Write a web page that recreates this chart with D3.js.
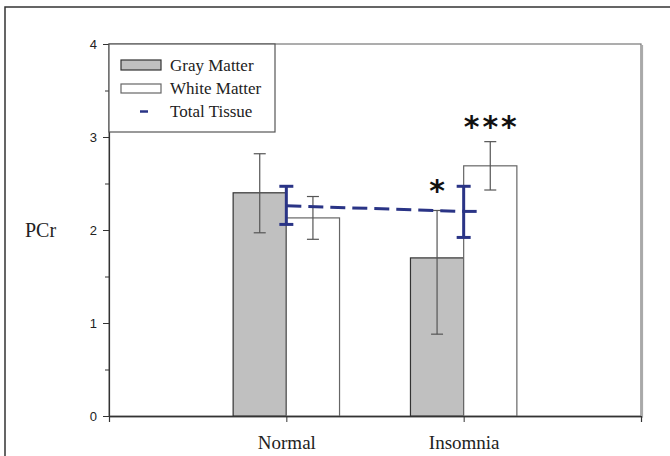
<!DOCTYPE html>
<html><head><meta charset="utf-8">
<script src="https://cdn.jsdelivr.net/npm/d3@7"></script>
<style>body{margin:0;background:#fff}</style>
</head><body>
<svg id="c" width="670" height="456"></svg>
<script>
const categories = ["Normal", "Insomnia"];
const grayMean = [2.40, 1.70];
const grayUpper = [2.82, 2.21];
const grayLower = [1.97, 0.88];
const whiteMean = [2.13, 2.69];
const whiteUpper = [2.36, 2.95];
const whiteLower = [1.90, 2.43];
const totalMean = [2.26, 2.20];
const totalUpper = [2.47, 2.47];
const totalLower = [2.06, 1.92];
const yTicks = [0, 1, 2, 3, 4];
const yMinorTicks = [0.5, 1.5, 2.5, 3.5];
const legendLabels = ["Gray Matter", "White Matter", "Total Tissue"];
const sigLabels = [{cat: 1, series: "gray", text: "*", gap: 20.5}, {cat: 1, series: "white", text: "***", gap: 16}];

const svg = d3.select("#c");
const L = 109, R = 641, T = 44, B = 416;
const x = d3.scaleLinear().domain([0, 3]).range([L, R]);
const y = d3.scaleLinear().domain([0, 4]).range([B, T]);
const barW = 0.3;
const navy = "#2a3486";

// outer frame
svg.append("rect").attr("x", 5).attr("y", 7).attr("width", 700).attr("height", 500)
  .attr("fill", "none").attr("stroke", "#333").attr("stroke-width", 1.5);

// plot frame with shadow
svg.append("line").attr("x1", R + 1.5).attr("x2", R + 1.5).attr("y1", T + 1).attr("y2", B + 1.5)
  .attr("stroke", "#aaa").attr("stroke-width", 1.2);
svg.append("line").attr("x1", L + 1).attr("x2", R + 1.5).attr("y1", B + 1.5).attr("y2", B + 1.5)
  .attr("stroke", "#aaa").attr("stroke-width", 1.2);
svg.append("rect").attr("x", L).attr("y", T).attr("width", R - L).attr("height", B - T)
  .attr("fill", "none").attr("stroke", "#777").attr("stroke-width", 1.2);

// bars
const idx = categories.map((c, i) => i);
const bars = svg.append("g");
bars.selectAll(".g").data(idx).join("rect")
  .attr("x", i => x(i + 1 - barW)).attr("width", i => x(barW) - x(0))
  .attr("y", i => y(grayMean[i])).attr("height", i => y(0) - y(grayMean[i]))
  .attr("fill", "#c0c0c0").attr("stroke", "#333").attr("stroke-width", 1.2);
bars.selectAll(".w").data(idx).join("rect")
  .attr("x", i => x(i + 1)).attr("width", i => x(barW) - x(0))
  .attr("y", i => y(whiteMean[i])).attr("height", i => y(0) - y(whiteMean[i]))
  .attr("fill", "#fff").attr("stroke", "#666").attr("stroke-width", 1.2);

function errBar(g, cx, up, lo, color, w, cap) {
  g.append("line").attr("x1", cx).attr("x2", cx).attr("y1", y(up)).attr("y2", y(lo))
    .attr("stroke", color).attr("stroke-width", w);
  [up, lo].forEach(v => g.append("line").attr("x1", cx - cap).attr("x2", cx + cap)
    .attr("y1", y(v)).attr("y2", y(v)).attr("stroke", color).attr("stroke-width", w));
}
const eg = svg.append("g");
idx.forEach(i => {
  errBar(eg, x(i + 1 - barW / 2), grayUpper[i], grayLower[i], "#555", 1.2, 6);
  errBar(eg, x(i + 1 + barW / 2), whiteUpper[i], whiteLower[i], "#555", 1.2, 6);
});

// axes
const yAxis = d3.axisLeft(y).tickValues(yTicks).tickSize(6).tickFormat(d3.format("d"));
const ya = svg.append("g").attr("transform", `translate(${L},0)`).call(yAxis);
ya.select(".domain").attr("stroke", "#333").attr("stroke-width", 1.2);
ya.selectAll(".tick line").attr("stroke", "#333");
ya.selectAll("text").attr("font-family", "Liberation Sans, Arial, sans-serif").attr("font-size", 13)
  .attr("fill", "#222").attr("x", -12);
const yMinor = d3.axisLeft(y).tickValues(yMinorTicks).tickSize(4).tickFormat("");
const ym = svg.append("g").attr("transform", `translate(${L},0)`).call(yMinor);
ym.select(".domain").remove();
ym.selectAll(".tick line").attr("stroke", "#333");

const xAxis = d3.axisBottom(x).tickValues(idx.map(i => i + 1)).tickSize(6)
  .tickFormat(d => categories[d - 1]);
const xa = svg.append("g").attr("transform", `translate(0,${B})`).call(xAxis);
xa.select(".domain").attr("stroke", "#333").attr("stroke-width", 1.2);
xa.selectAll(".tick line").attr("stroke", "#333");
xa.selectAll("text").attr("font-family", "Liberation Serif, Times New Roman, serif").attr("font-size", 19)
  .attr("fill", "#222").attr("y", 20);

svg.append("text").attr("x", 25).attr("y", y(2) + 7).text("PCr")
  .attr("font-family", "Liberation Serif, Times New Roman, serif").attr("font-size", 20).attr("fill", "#222");

// total tissue
const tg = svg.append("g");
tg.append("line").attr("x1", x(1)).attr("y1", y(totalMean[0])).attr("x2", x(2)).attr("y2", y(totalMean[1]))
  .attr("stroke", navy).attr("stroke-width", 3).attr("stroke-dasharray", "15,7");
idx.forEach(i => {
  errBar(tg, x(i + 1), totalUpper[i], totalLower[i], navy, 3, 7);
});
tg.append("line").attr("x1", x(2)).attr("x2", x(2) + 13).attr("y1", y(totalMean[1])).attr("y2", y(totalMean[1]))
  .attr("stroke", navy).attr("stroke-width", 3);

// significance asterisks
sigLabels.forEach(s => {
  const cx = s.series === "gray" ? x(s.cat + 1 - barW / 2) : x(s.cat + 1 + barW / 2);
  const top = s.series === "gray" ? grayUpper[s.cat] : whiteUpper[s.cat];
  const fs = 30;
  svg.append("text").attr("x", cx + (s.text.length > 1 ? 1.5 : 0)).attr("y", y(top) - s.gap + 0.38 * fs)
    .attr("text-anchor", "middle")
    .attr("font-family", "DejaVu Sans, sans-serif").attr("font-weight", "bold").attr("font-size", fs)
    .attr("letter-spacing", s.text.length > 1 ? 3 : 0)
    .attr("fill", "#111").text(s.text);
});

// legend
const lg = svg.append("g");
lg.append("rect").attr("x", L).attr("y", T).attr("width", 166).attr("height", 88)
  .attr("fill", "#fff").attr("stroke", "#555").attr("stroke-width", 1.2);
const ly = [71, 94, 117];
lg.append("rect").attr("x", 121).attr("y", 60).attr("width", 40).attr("height", 10)
  .attr("fill", "#c0c0c0").attr("stroke", "#333").attr("stroke-width", 1.2);
lg.append("rect").attr("x", 121).attr("y", 84).attr("width", 40).attr("height", 9)
  .attr("fill", "#fff").attr("stroke", "#666").attr("stroke-width", 1.2);
lg.append("line").attr("x1", 140).attr("x2", 148).attr("y1", 111.5).attr("y2", 111.5)
  .attr("stroke", navy).attr("stroke-width", 2.5);
legendLabels.forEach((t, i) => lg.append("text").attr("x", 170).attr("y", ly[i]).text(t)
  .attr("font-family", "Liberation Serif, Times New Roman, serif").attr("font-size", 17).attr("fill", "#222"));
</script>
</body></html>
